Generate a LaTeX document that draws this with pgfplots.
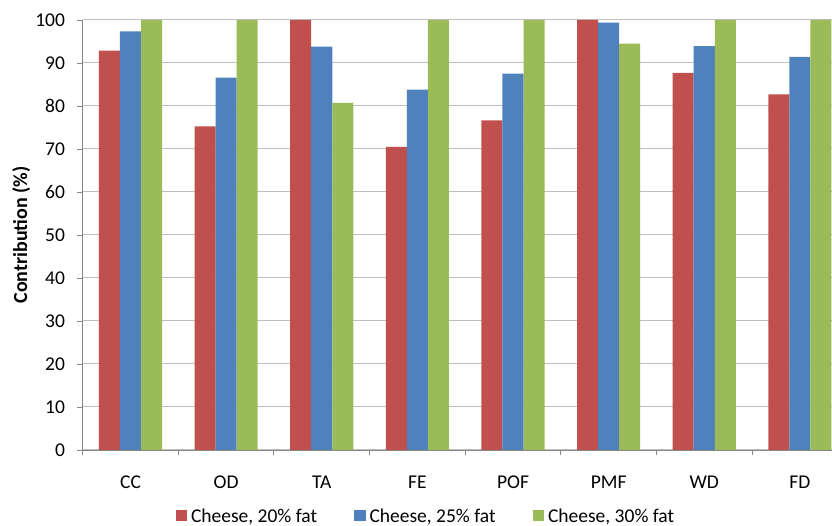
\documentclass[border=0pt]{standalone}
\usepackage{fontspec}
\setmainfont{Carlito}
\usepackage{pgfplots}
\pgfplotsset{compat=1.18}
\usepackage{pgfplotstable}

\definecolor{cred}{HTML}{C0504D}
\definecolor{cblue}{HTML}{4F81BD}
\definecolor{cgreen}{HTML}{9BBB59}
\definecolor{gridgray}{HTML}{BFBFBF}
\definecolor{axisgray}{HTML}{868686}

% contribution (%) per attribute; x = category index
\pgfplotstableread{
x  f20    f25    f30
0  92.9   97.35  100
1  75.25  86.6   100
2  100    93.8   80.7
3  70.5   83.8   100
4  76.65  87.5   100
5  100    99.4   94.5
6  87.7   93.9   100
7  82.7   91.4   100
}\contrib

\begin{document}
\begin{tikzpicture}
\begin{axis}[
  name=ax,
  scale only axis,
  width=765pt, height=430pt,
  xmin=-0.5, xmax=7.5,
  ymin=0, ymax=100,
  enlargelimits=false,
  ybar=0pt,
  bar width=0.22,
  axis x line=bottom,
  axis y line=left,
  axis line style={-, draw=axisgray, line width=0.9pt},
  tick style={draw=axisgray, line width=0.9pt},
  tick align=outside,
  major tick length=5.5pt,
  ytick={0,10,...,100},
  xtick={-0.5,0.5,...,7.5},
  x tick label as interval,
  xticklabels={CC,OD,TA,FE,POF,PMF,WD,FD},
  ymajorgrids,
  grid style={draw=gridgray, line width=1pt},
  /pgf/number format/assume math mode=true,
  every tick label/.append style={font=\fontsize{19.5}{23}\selectfont},
  xticklabel style={anchor=base, yshift=-33pt},
  yticklabel style={anchor=east, inner sep=0pt, xshift=-12pt},
  ylabel={\textbf{Contribution (\%)}},
  ylabel style={at={(axis description cs:-0.0805,0.5)}, anchor=center, rotate=0, font=\fontsize{20}{24}\selectfont},
  legend columns=3,
  legend style={draw=none, fill=none, at={(axis description cs:0.4485,0)}, anchor=center, yshift=-66pt,
    font=\fontsize{19.5}{23}\selectfont,
    /tikz/every odd column/.append style={column sep=2pt},
    /tikz/every even column/.append style={column sep=35pt}},
  legend image code/.code={\fill[#1] (0pt,-5.5pt) rectangle (11.5pt,6pt);},
]
\addplot[fill=cred, draw=none] table[x=x, y=f20] {\contrib};
\addlegendentry{Cheese, 20\% fat}
\addplot[fill=cblue, draw=none] table[x=x, y=f25] {\contrib};
\addlegendentry{Cheese, 25\% fat}
\addplot[fill=cgreen, draw=none] table[x=x, y=f30] {\contrib};
\addlegendentry{Cheese, 30\% fat}
\coordinate (bl) at (rel axis cs:0,0);
\end{axis}
\pgfresetboundingbox
\path[use as bounding box] ([shift={(-82.7pt,-76pt)}]bl) rectangle ([shift={(749.3pt,450pt)}]bl);
\end{tikzpicture}
\end{document}
